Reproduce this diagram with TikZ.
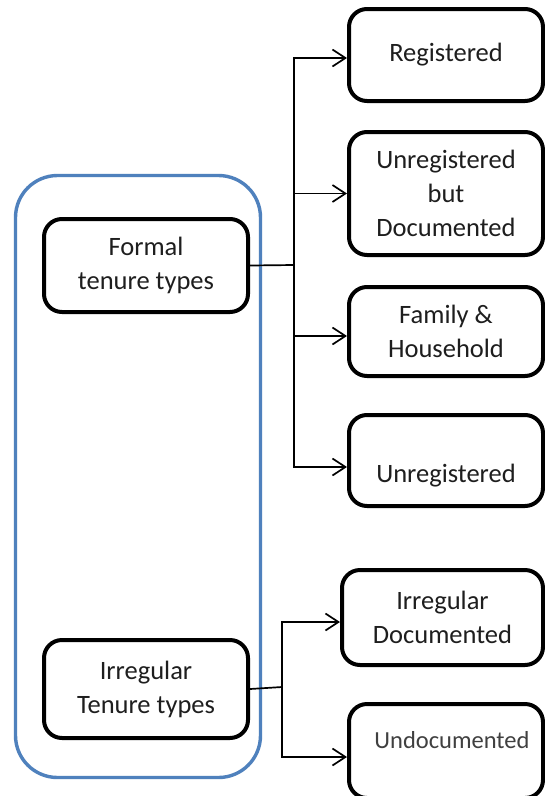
\documentclass[tikz,border=0pt]{standalone}
\usepackage{fontspec}
\setmainfont{Carlito}
\usepackage{tikz}
\usetikzlibrary{arrows.meta, positioning}
\definecolor{groupblue}{RGB}{79, 129, 189}
\definecolor{textgray}{RGB}{30, 30, 30}
\tikzset{
  tenurebox/.style={draw, line width=4pt, rounded corners=18pt, align=center, minimum width=204pt},
  typebox/.style={draw, line width=4pt, rounded corners=18pt, align=center, minimum width=194pt},
  groupbox/.style={draw=groupblue, line width=3.4pt, rounded corners=42pt},
  link/.style={line width=1.7pt},
  linkarrow/.style={line width=1.7pt, -{Straight Barb[length=13pt, width=17pt]}}
}

\begin{document}
\begin{tikzpicture}[x=1pt, y=-1pt, font=\fontsize{26.5}{34}\selectfont, text=textgray]
        \useasboundingbox (0,0) rectangle (545,796);
        \clip (0,0) rectangle (545,796);
        \fill[white] (0,0) rectangle (545,796);

        % Tenure group
        \node[groupbox, minimum width=245pt, minimum height=602pt] (tenure) at (138, 476.5) {};

        % Tenure types
        \node[tenurebox, minimum height=93pt] (formal) at (146, 265.5) {Formal\\tenure types};
        \node[tenurebox, minimum height=98pt] (irregular) at (146, 689) {Irregular\\Tenure types};

        % Formal sub-types
        \node[typebox, minimum height=92pt] (registered) at (446, 55) {Registered};
        \node[typebox, minimum height=123pt] (unregdoc) at (446, 193.5) {Unregistered\\but\\Documented};
        \node[typebox, minimum height=89pt] (family) at (446, 331.5) {Family \&\\Household};
        \node[typebox, minimum height=91pt, label={[yshift=-15pt]center:Unregistered}] (unregistered) at (446, 460.5) {};

        % Irregular sub-types
        \node[typebox, minimum width=201pt, minimum height=95pt] (irregdoc) at (442.5, 617.5) {Irregular\\Documented};
        \node[typebox, minimum height=94pt, label={[yshift=11pt, xshift=6pt, font=\fontsize{24.5}{34}\selectfont, text=black!75]center:Undocumented}] (undocumented) at (446, 751) {};

        % Branch points
        \coordinate (formalsplit) at (294, 265);
        \coordinate (irregsplit) at (282, 687);

        % Connectors
        \draw[link] (formal.east) -- (formalsplit);
        \draw[linkarrow] (formalsplit) |- ([yshift=-3pt]registered.west);
        \draw[linkarrow] (formalsplit) |- (unregdoc.west);
        \draw[linkarrow] (formalsplit) |- ([yshift=-4.5pt]family.west);
        \draw[linkarrow] (formalsplit) |- ([yshift=-6.5pt]unregistered.west);

        \draw[link] (irregular.east) -- (irregsplit);
        \draw[linkarrow] (irregsplit) |- ([yshift=-4.5pt]irregdoc.west);
        \draw[linkarrow] (irregsplit) |- ([yshift=-6pt]undocumented.west);

    \end{tikzpicture}
\end{document}
